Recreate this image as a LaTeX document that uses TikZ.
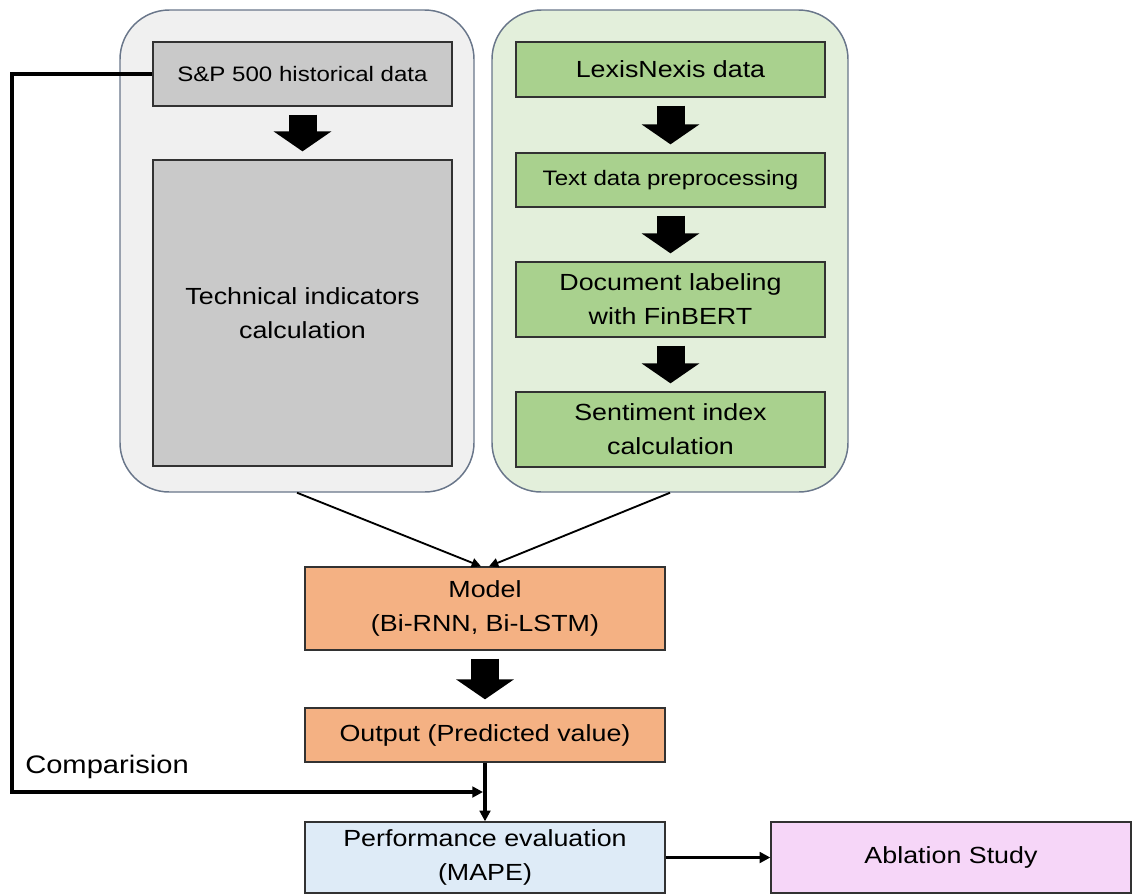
\documentclass[tikz,border=0pt]{standalone}
\usepackage{fontspec}
\setmainfont{Liberation Sans}[FakeStretch=1.15]
\usetikzlibrary{arrows.meta,calc}
\definecolor{contborder}{RGB}{105,118,138}
\definecolor{grayfill}{RGB}{240,240,240}
\definecolor{greenfill}{RGB}{227,239,219}
\definecolor{graybox}{RGB}{201,201,201}
\definecolor{greenbox}{RGB}{169,209,142}
\definecolor{orangebox}{RGB}{244,177,131}
\definecolor{bluebox}{RGB}{222,235,247}
\definecolor{pinkbox}{RGB}{246,214,248}
\definecolor{boxborder}{RGB}{50,50,50}
\newcommand\pxu[1]{#1*0.75pt}
\tikzset{
  container/.style={draw=contborder, line width=1.1pt, rounded corners=37pt, inner sep=0pt},
  stepbox/.style={draw=boxborder, line width=1pt, inner sep=0pt, align=center,
    font=\fontsize{17.5}{25.5}\selectfont},
  smalltext/.style={font=\fontsize{15.7}{22}\selectfont},
  blockarrow/.style={line width=21pt, -{Triangle[width=42.75pt,length=15pt]}, shorten <=6pt, shorten >=6pt},
  thinarrow/.style={line width=1.4pt, -{Triangle[width=7pt,length=7pt]}},
  thickarrow/.style={line width=2.6pt, -{Triangle[width=8pt,length=8pt]}},
}
\begin{document}
\begin{tikzpicture}[x=0.75pt, y=-0.75pt]
\useasboundingbox (0,0) rectangle (1139,894);
% containers
\node[container, fill=grayfill, minimum width=\pxu{354}, minimum height=\pxu{482}] (cgray) at (297,251) {};
\node[container, fill=greenfill, minimum width=\pxu{356}, minimum height=\pxu{482}] (cgreen) at (670,251) {};
% left column
\node[stepbox, smalltext, fill=graybox, minimum width=\pxu{299}, minimum height=\pxu{64}] (sp) at (302.5,74) {S\&P 500 historical data};
\node[stepbox, fill=graybox, minimum width=\pxu{299}, minimum height=\pxu{306}] (tech) at (302.5,313) {Technical indicators\\calculation};
% right column
\node[stepbox, fill=greenbox, minimum width=\pxu{309}, minimum height=\pxu{55}] (lex) at (670.5,69.5) {LexisNexis data};
\node[stepbox, smalltext, fill=greenbox, minimum width=\pxu{309}, minimum height=\pxu{54}] (txt) at (670.5,180) {Text data preprocessing};
\node[stepbox, fill=greenbox, minimum width=\pxu{309}, minimum height=\pxu{75}] (doc) at (670.5,299.5) {Document labeling\\with FinBERT};
\node[stepbox, fill=greenbox, minimum width=\pxu{309}, minimum height=\pxu{75}] (sent) at (670.5,429.5) {Sentiment index\\calculation};
% lower part
\node[stepbox, fill=orangebox, minimum width=\pxu{360}, minimum height=\pxu{83}] (model) at (485,608.5) {Model\\(Bi-RNN, Bi-LSTM)};
\node[stepbox, fill=orangebox, minimum width=\pxu{360}, minimum height=\pxu{54}] (out) at (485,735) {Output (Predicted value)};
\node[stepbox, fill=bluebox, minimum width=\pxu{360}, minimum height=\pxu{71}] (perf) at (485,857.5) {Performance evaluation\\(MAPE)};
\node[stepbox, fill=pinkbox, minimum width=\pxu{360}, minimum height=\pxu{71}] (abl) at (951,857.5) {Ablation Study};
\node[anchor=west, inner sep=0pt, font=\fontsize{19}{23}\selectfont] (comp) at (25,767) {Comparision};
% block arrows
\draw[blockarrow] (sp.south) -- (tech.north);
\draw[blockarrow] (lex.south) -- (txt.north);
\draw[blockarrow] (txt.south) -- (doc.north);
\draw[blockarrow] (doc.south) -- (sent.north);
\draw[blockarrow] (model.south) -- (out.north);
% thin arrows into model
\draw[thinarrow] (cgray.south) -- ($(model.north)+(-4,0)$);
\draw[thinarrow] (cgreen.south) -- ($(model.north)+(4,0)$);
% comparison line
\coordinate (cmpend) at (483,792);
\draw[thickarrow] (sp.west) -| (12,792) -- (cmpend);
\draw[thickarrow] (out.south) -- (perf.north);
\draw[thickarrow] (perf.east) -- (abl.west);
\end{tikzpicture}
\end{document}
